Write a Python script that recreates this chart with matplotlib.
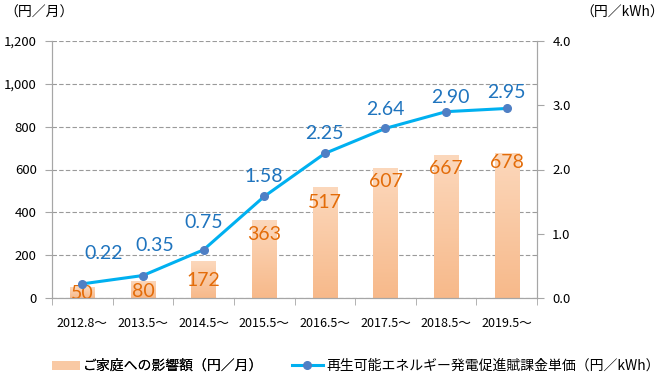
import numpy as np
import matplotlib.pyplot as plt
from matplotlib.patches import Patch
from matplotlib.lines import Line2D
from matplotlib.colors import LinearSegmentedColormap

plt.rcParams['font.family'] = ['Noto Sans CJK JP', 'DejaVu Sans']

periods = ["2012.8～", "2013.5～", "2014.5～", "2015.5～",
           "2016.5～", "2017.5～", "2018.5～", "2019.5～"]
household_yen = [50, 80, 172, 363, 517, 607, 667, 678]
levy_yen_kwh = [0.22, 0.35, 0.75, 1.58, 2.25, 2.64, 2.90, 2.95]

# label nudges in pixels (dx, dy) – as placed in the original chart
bar_label_dy = [-6, -11, -19, -14, -15, -13, -13, -10]
line_label_off = [(21, 30), (12, 30), (0, 27), (0, 20), (0, 20), (0, 19), (4, 14), (0, 16)]

BAR_TOP = "#FCD8BC"
BAR_BOTTOM = "#F7B98A"
BAR_LABEL = "#E36C09"
LINE = "#00B0F0"
MARKER = "#4F7FC4"
LINE_LABEL = "#1F74BE"
GRID = "#9A9A9A"
AXIS = "#A6A6A6"
NUM_FONT = ["Lato", "DejaVu Sans"]
PX = 72 / 100  # pixels -> points

fig = plt.figure(figsize=(6.68, 3.83), dpi=100)
ax = fig.add_axes([52 / 668, 1 - 298 / 383, 485 / 668, 257 / 383])
ax2 = ax.twinx()

x = np.arange(len(periods))
width = 0.4

# bars with a vertical gradient
cmap = LinearSegmentedColormap.from_list("bar", [BAR_BOTTOM, BAR_TOP])
grad = np.linspace(0, 1, 256).reshape(-1, 1)
bars = ax.bar(x, household_yen, width, color="none", edgecolor="none", zorder=2)
for b in bars:
    x0, y0, w, h = b.get_x(), b.get_y(), b.get_width(), b.get_height()
    im = ax.imshow(grad, cmap=cmap, aspect="auto", origin="lower",
                   extent=[x0, x0 + w, y0, y0 + h], zorder=2)
    im.set_clip_path(b)

for xi, v, dy in zip(x, household_yen, bar_label_dy):
    ax.annotate(str(v), (xi, v), xytext=(0, dy * PX), textcoords="offset points",
                ha="center", va="center", fontsize=14, color=BAR_LABEL,
                family=NUM_FONT, zorder=4, annotation_clip=False)

ax.set_xlim(-0.5, len(periods) - 0.5)
ax.set_ylim(0, 1200)
ax.set_yticks(range(0, 1201, 200))
ax.set_yticklabels([f"{v:,}" for v in range(0, 1201, 200)])
ax.yaxis.grid(True, linestyle=(0, (4, 2)), color=GRID, linewidth=0.8)
ax.set_axisbelow(True)
ax.set_xticks(x)
ax.set_xticklabels(periods)
ax.set_xticks(np.arange(-0.5, len(periods)), minor=True)
ax.tick_params(axis="x", which="major", length=0, pad=14, labelsize=9)
ax.tick_params(axis="x", which="minor", length=5, color=AXIS)
ax.tick_params(axis="y", length=5, color=AXIS, labelsize=9.5, pad=6)

# line on the secondary axis
ax2.set_ylim(0, 4.0)
ax2.plot(x, levy_yen_kwh, color=LINE, linewidth=2.2, marker="o", markersize=5.5,
         markerfacecolor=MARKER, markeredgecolor=MARKER, zorder=3)
for xi, v, (dx, dy) in zip(x, levy_yen_kwh, line_label_off):
    ax2.annotate(f"{v:.2f}", (xi, v), xytext=(dx * PX, dy * PX),
                 textcoords="offset points", ha="center", va="center",
                 fontsize=14, color=LINE_LABEL, family=NUM_FONT)
ax2.set_yticks(np.arange(0, 4.01, 1.0))
ax2.set_yticklabels([f"{v:.1f}" for v in np.arange(0, 4.01, 1.0)])
ax2.tick_params(axis="y", length=5, color=AXIS, labelsize=9.5, pad=6)

for a in (ax, ax2):
    a.spines["top"].set_visible(False)
    for s in ("left", "right", "bottom"):
        a.spines[s].set_color(AXIS)

fig.text(4 / 668, 1 - 13 / 383, "（円／月）", fontsize=10, va="center", ha="left")
fig.text(664 / 668, 1 - 13 / 383, "（円／kWh）", fontsize=10, va="center", ha="right")

leg_kw = dict(frameon=False, fontsize=10, borderpad=0, borderaxespad=0,
              handletextpad=0.25, loc="center left")
leg1 = fig.legend([Patch(facecolor="#F9C9A4", edgecolor="none")],
                  ["ご家庭への影響額（円／月）"], handlelength=2.0, handleheight=0.6,
                  bbox_to_anchor=(52 / 668, 1 - 366 / 383), **leg_kw)
fig.add_artist(leg1)
fig.legend([Line2D([0], [0], color=LINE, linewidth=2.2, marker="o", markersize=5.5,
                   markerfacecolor=MARKER, markeredgecolor=MARKER)],
           ["再生可能エネルギー発電促進賦課金単価（円／kWh）"], handlelength=2.2,
           bbox_to_anchor=(292 / 668, 1 - 366 / 383), **leg_kw)

fig.savefig("out.png", dpi=100)
